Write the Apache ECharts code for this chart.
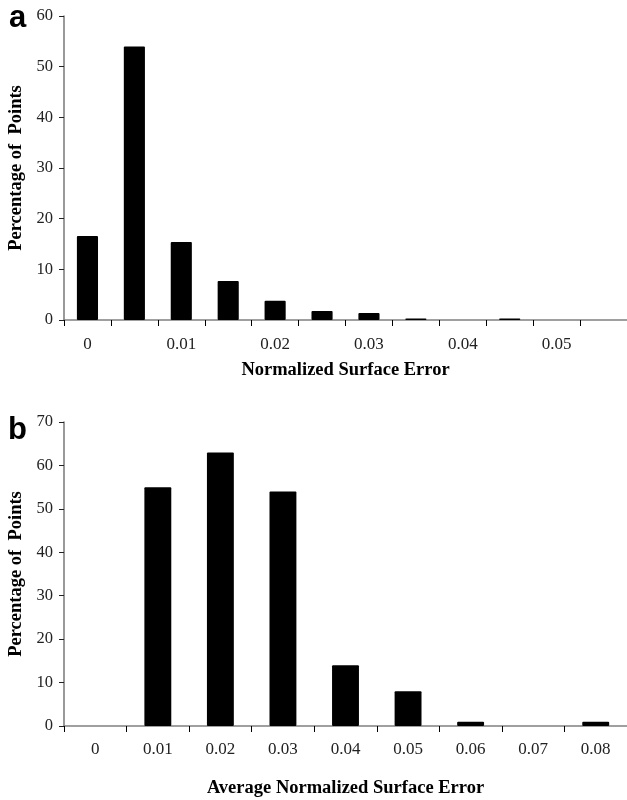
<!DOCTYPE html>
<html>
<head>
<meta charset="utf-8">
<script src="https://cdn.jsdelivr.net/npm/echarts@6/dist/echarts.min.js"></script>
<style>
  html, body { margin: 0; padding: 0; background: #fff; }
  #chart { width: 627px; height: 800px; }
</style>
</head>
<body>
<div id="chart"></div>
<script>
// Panel a: distribution of normalized surface error
const catsA = ['0', '', '0.01', '', '0.02', '', '0.03', '', '0.04', '', '0.05', ''];
const valsA = [16.6, 54, 15.4, 7.7, 3.8, 1.8, 1.4, 0.3, 0, 0.3, 0, 0];

// Panel b: distribution of average normalized surface error
const catsB = ['0', '0.01', '0.02', '0.03', '0.04', '0.05', '0.06', '0.07', '0.08'];
const valsB = [0, 55, 63, 54, 14, 8, 1, 0, 1];

const yTitle = 'Percentage of  Points';
const serif = 'Liberation Serif';

function xAxisCfg(cats, gridIndex, name, nameGap, labelMargin) {
  return {
    type: 'category', gridIndex, data: cats,
    name, nameLocation: 'middle', nameGap,
    nameTextStyle: { fontFamily: serif, fontWeight: 'bold', fontSize: 18.5, color: '#000' },
    axisLine: { lineStyle: { color: '#808080', width: 1.6 } },
    axisTick: { show: true, length: 6, lineStyle: { color: '#000', width: 1 } },
    axisLabel: { fontFamily: serif, fontSize: 17, color: '#222', margin: labelMargin, interval: 0 }
  };
}
function yAxisCfg(gridIndex, max) {
  return {
    type: 'value', gridIndex, min: 0, max, interval: 10,
    name: yTitle, nameLocation: 'middle', nameRotate: 90, nameGap: 37,
    nameTextStyle: { fontFamily: serif, fontWeight: 'bold', fontSize: 18.5, color: '#000' },
    splitLine: { show: false },
    axisLine: { show: true, lineStyle: { color: '#808080', width: 1.6 } },
    axisTick: { show: true, length: 5, lineStyle: { color: '#222', width: 1 } },
    axisLabel: { fontFamily: serif, fontSize: 16.5, color: '#222', margin: 11 }
  };
}

const chart = echarts.init(document.getElementById('chart'), null, { renderer: 'canvas' });
chart.setOption({
  animation: false,
  backgroundColor: '#fff',
  grid: [
    { left: 64, top: 16, right: 0, height: 304, containLabel: false, outerBoundsMode: 'none' },
    { left: 64, top: 422, right: 0, height: 304, containLabel: false, outerBoundsMode: 'none' }
  ],
  xAxis: [
    xAxisCfg(catsA, 0, 'Normalized Surface Error', 41, 16),
    xAxisCfg(catsB, 1, 'Average Normalized Surface Error', 53, 15)
  ],
  yAxis: [yAxisCfg(0, 60), yAxisCfg(1, 70)],
  series: [
    {
      type: 'bar', xAxisIndex: 0, yAxisIndex: 0, data: valsA,
      barWidth: '45%', itemStyle: { color: '#000', borderRadius: 1 }
    },
    {
      type: 'bar', xAxisIndex: 1, yAxisIndex: 1, data: valsB,
      barWidth: '43%', itemStyle: { color: '#000', borderRadius: 1 }
    }
  ],
  graphic: [
    { type: 'text', left: 9, top: 3, style: { text: 'a', font: 'bold 31px "Liberation Sans"', fill: '#000' } },
    { type: 'text', left: 8, top: 415, style: { text: 'b', font: 'bold 31px "Liberation Sans"', fill: '#000' } }
  ]
});
</script>
</body>
</html>
